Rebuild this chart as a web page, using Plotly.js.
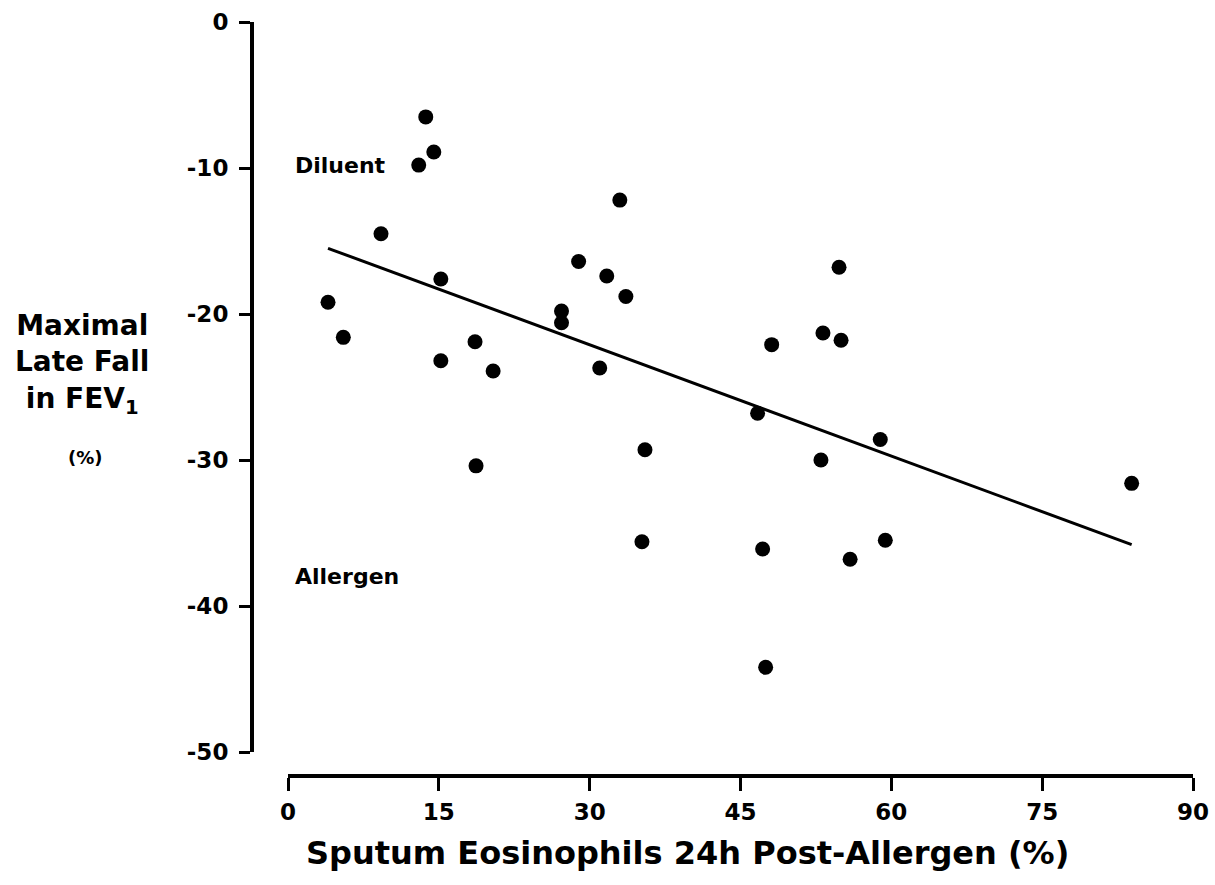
<!DOCTYPE html>
<html>
<head>
<meta charset="utf-8">
<script src="https://cdn.plot.ly/plotly-3.0.1.min.js"></script>
<style>html,body{margin:0;padding:0;background:#fff;}#chart{width:1215px;height:885px;}</style>
</head>
<body>
<div id="chart"></div>
<script>
// Sputum eosinophils 24h post-allergen (%)
const eosinophils = [3.98, 5.5, 9.25, 13.7, 13.0, 14.5, 15.2, 15.2, 18.6, 18.7, 20.4,
  27.2, 27.2, 28.9, 31.0, 31.7, 33.0, 33.6, 35.5, 35.2,
  46.7, 47.2, 47.5, 48.1, 53.2, 54.8, 55.0, 53.0, 55.9, 58.9, 59.4, 83.9];
// Maximal late fall in FEV1 (%)
const fev1Fall = [-19.2, -21.6, -14.5, -6.5, -9.8, -8.9, -17.6, -23.2, -21.9, -30.4, -23.9,
  -19.8, -20.6, -16.4, -23.7, -17.4, -12.2, -18.8, -29.3, -35.6,
  -26.8, -36.1, -44.2, -22.1, -21.3, -16.8, -21.8, -30.0, -36.8, -28.6, -35.5, -31.6];
// Regression line endpoints
const fitX = [3.98, 83.9];
const fitY = [-15.5, -35.8];

const xTickVals = [0, 15, 30, 45, 60, 75, 90];
const xTickText = ["0", "15", "30", "45", "60", "75", "90"];
const yTickVals = [0, -10, -20, -30, -40, -50];
const yTickText = ["0", "-10", "-20", "-30", "-40", "-50"];

const FONT = "DejaVu Sans, Liberation Sans, Arial, sans-serif";

const traces = [
  {
    x: eosinophils, y: fev1Fall, type: "scatter", mode: "markers",
    marker: {color: "#000", size: 15, line: {width: 0}},
    cliponaxis: false, hoverinfo: "skip"
  },
  {
    x: fitX, y: fitY, type: "scatter", mode: "lines",
    line: {color: "#000", width: 3}, cliponaxis: false, hoverinfo: "skip"
  }
];

const layout = {
  width: 1215, height: 885,
  margin: {l: 251, r: 22, t: 22, b: 110},
  paper_bgcolor: "#fff", plot_bgcolor: "#fff",
  showlegend: false,
  font: {family: FONT, color: "#000"},
  xaxis: {
    range: [0, 90], domain: [37/942, 1],
    anchor: "free", position: 0,
    tickvals: xTickVals, ticktext: xTickText,
    showline: true, linecolor: "#000", linewidth: 3.5,
    ticks: "outside", ticklen: 13, tickwidth: 3, tickcolor: "#000",
    showgrid: false, zeroline: false,
    tickfont: {family: FONT, size: 23, weight: "bold", color: "#000"},
    ticklabelstandoff: 2
  },
  yaxis: {
    range: [-50, 0], domain: [23/753, 1],
    anchor: "free", position: 0,
    tickvals: yTickVals, ticktext: yTickText,
    showline: true, linecolor: "#000", linewidth: 3.5,
    ticks: "outside", ticklen: 11, tickwidth: 3, tickcolor: "#000",
    showgrid: false, zeroline: false,
    tickfont: {family: FONT, size: 23, weight: "bold", color: "#000"},
    ticklabelstandoff: 6
  },
  annotations: [
    {text: "Diluent", xref: "x", yref: "y", x: 0.5, y: -9.83, xanchor: "left", yanchor: "middle",
     showarrow: false, font: {family: FONT, size: 22, weight: "bold", color: "#000"}},
    {text: "Allergen", xref: "x", yref: "y", x: 0.5, y: -37.98, xanchor: "left", yanchor: "middle",
     showarrow: false, font: {family: FONT, size: 22, weight: "bold", color: "#000"}},
    {text: "Sputum Eosinophils 24h Post-Allergen (%)", xref: "paper", yref: "paper",
     x: 0.4639, y: -0.1036, xanchor: "center", yanchor: "middle", showarrow: false,
     font: {family: FONT, size: 32, weight: "bold", color: "#000"}},
    {text: "Maximal<br>Late Fall<br>in FEV<sub>1</sub>", xref: "paper", yref: "paper",
     x: -0.1794, y: 0.5458, xanchor: "center", yanchor: "middle", align: "center", showarrow: false,
     font: {family: FONT, size: 28, weight: "bold", color: "#000"}},
    {text: "(%)", xref: "paper", yref: "paper", x: -0.1762, y: 0.421, xanchor: "center", yanchor: "middle",
     showarrow: false, font: {family: FONT, size: 18, weight: "bold", color: "#000"}}
  ]
};

Plotly.newPlot("chart", traces, layout, {staticPlot: true, displayModeBar: false});
</script>
</body>
</html>
